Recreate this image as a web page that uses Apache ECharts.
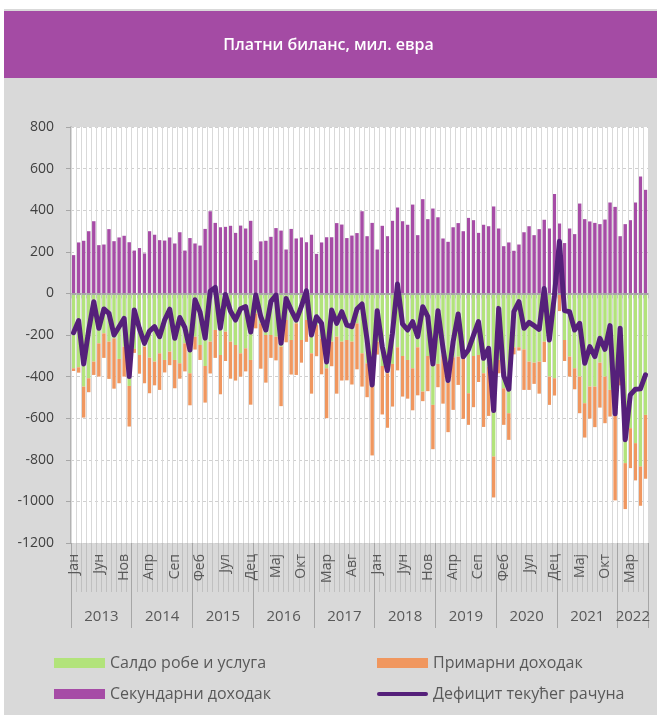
<!DOCTYPE html>
<html>
<head>
    <meta charset="utf-8">
    <title>Платни биланс, мил. евра</title>
    <script src="https://cdn.jsdelivr.net/npm/echarts@6/dist/echarts.min.js"></script>
    <style>
        html, body { margin: 0; padding: 0; background: #fff; }
        #panel { position: absolute; left: 4px; top: 9px; width: 653px; height: 706px; background: #d9d9d9; }
        #band { position: absolute; left: 4px; top: 11px; width: 653px; height: 67px; background: #a44ba4; }
        #chart { position: absolute; left: 0; top: 0; width: 657px; height: 715px; }
    </style>
</head>
<body>
<div id="panel"></div>
<div id="band"></div>
<div id="chart"></div>
<script>
    // месеци и године (јан 2013 - јун 2022)
    var monthNames = ['Јан', 'Феб', 'Мар', 'Апр', 'Мај', 'Јун', 'Јул', 'Авг', 'Сеп', 'Окт', 'Нов', 'Дец'];
    var years = ['2013', '2014', '2015', '2016', '2017', '2018', '2019', '2020', '2021', '2022'];
    var monthsLastYear = 6;

    // салдо робе и услуга
    var goods = [
        -360, -355, -448, -408, -328, -240, -192, -232, -216, -315, -256, -445,
        -267, -296, -256, -309, -328, -288, -320, -280, -320, -336, -240, -384,
        -208, -248, -349, -232, -176, -296, -184, -232, -248, -288, -264, -320,
        -96, -144, -200, -200, -208, -256, -128, -224, -144, -224, -128, -288,
        -152, -216, -360, -232, -208, -232, -224, -232, -144, -288, -336, -392,
        -232, -349, -384, -339, -259, -301, -320, -360, -259, -472, -301, -536,
        -339, -296, -429, -307, -304, -304, -480, -301, -296, -384, -352, -784,
        -320, -456, -576, -259, -259, -269, -328, -333, -328, -232, -400, -408,
        -5, -224, -304, -360, -400, -528, -448, -448, -333, -400, -464, -586,
        -350, -816, -648, -720, -832, -584
    ];
    // примарни доходак
    var primary = [
        -13, -26, -149, -67, -64, -160, -118, -179, -242, -117, -144, -195,
        -19, -90, -176, -171, -114, -176, -60, -65, -136, -74, -135, -154,
        -62, -72, -176, -153, -134, -189, -141, -178, -171, -112, -111, -215,
        -72, -218, -229, -110, -114, -286, -107, -166, -248, -109, -105, -194,
        -150, -173, -240, -118, -274, -187, -194, -206, -221, -160, -163, -387,
        -62, -233, -262, -205, -111, -195, -186, -202, -231, -46, -169, -213,
        -112, -234, -238, -253, -136, -299, -152, -246, -130, -258, -237, -197,
        -64, -176, -128, -34, -16, -195, -136, -102, -154, -98, -136, -83,
        -80, -101, -96, -101, -176, -165, -154, -195, -216, -224, -128, -409,
        -92, -221, -192, -179, -189, -307
    ];
    // секундарни доходак
    var secondary = [
        184, 245, 253, 299, 347, 232, 235, 309, 251, 269, 277, 246,
        206, 218, 192, 299, 282, 256, 254, 269, 240, 294, 206, 266,
        240, 230, 310, 395, 339, 318, 320, 325, 291, 326, 312, 349,
        160, 250, 253, 272, 314, 302, 211, 310, 264, 269, 246, 282,
        190, 245, 270, 270, 338, 331, 266, 278, 290, 395, 275, 339,
        211, 325, 275, 349, 413, 347, 330, 427, 280, 453, 357, 408,
        366, 264, 248, 318, 338, 299, 363, 352, 291, 330, 323, 418,
        312, 227, 245, 205, 235, 294, 323, 280, 309, 354, 312, 478,
        336, 242, 312, 285, 432, 357, 346, 339, 333, 355, 437, 416,
        275, 333, 352, 437, 562, 498
    ];
    // дефицит текућег рачуна
    var current = [
        -189, -131, -339, -176, -40, -168, -75, -96, -200, -160, -120, -400,
        -80, -168, -240, -181, -160, -208, -128, -76, -216, -116, -165, -272,
        -30, -90, -215, 10, 29, -167, -5, -85, -128, -74, -63, -186,
        -8, -112, -176, -38, -8, -240, -24, -80, -128, -64, 13, -200,
        -112, -144, -330, -80, -144, -88, -152, -160, -75, -51, -224, -440,
        -83, -256, -371, -192, 45, -147, -176, -136, -208, -64, -112, -339,
        -83, -264, -419, -232, -99, -304, -272, -203, -136, -312, -264, -563,
        -72, -397, -461, -88, -40, -168, -139, -155, -173, 24, -224, -13,
        251, -83, -88, -176, -144, -336, -256, -304, -216, -269, -155, -579,
        -167, -704, -488, -461, -459, -392
    ];

    var categories = [];
    years.forEach(function (y, k) {
        var n = (k === years.length - 1) ? monthsLastYear : 12;
        for (var m = 0; m < n; m++) {
            categories.push(monthNames[m] + ' ' + y);
        }
    });
    // позиција натписа године (средина године)
    var yearLabelIdx = {};
    var start = 0;
    years.forEach(function (y, k) {
        var n = (k === years.length - 1) ? monthsLastYear : 12;
        yearLabelIdx[start + Math.floor(n / 2)] = true;
        start += n;
    });

    var font = 'Open Sans';
    var gray = '#595959';
    var lineIcon = 'path://M2,0 L49,0 A2,2 0 0 1 49,4 L2,4 A2,2 0 0 1 2,0 Z';

    var myChart = echarts.init(document.getElementById('chart'));
    myChart.setOption({
        animation: false,
        title: {
            text: 'Платни биланс, мил. евра',
            left: 'center',
            top: 32,
            textStyle: { color: '#fff', fontSize: 16, fontWeight: 600, fontFamily: font }
        },
        grid: {
            left: 71, top: 127, width: 577, height: 416,
            show: true, backgroundColor: '#ffffff', borderWidth: 0
        },
        legend: [{
            data: ['Салдо робе и услуга', 'Секундарни доходак'],
            orient: 'vertical', left: 49, top: 650,
            icon: 'rect',
            itemWidth: 51, itemHeight: 10, itemGap: 15,
            textStyle: { color: gray, fontSize: 16, fontFamily: font }
        }, {
            data: [
                { name: 'Примарни доходак', icon: 'rect' },
                { name: 'Дефицит текућег рачуна', icon: lineIcon }
            ],
            orient: 'vertical', left: 372, top: 650,
            itemWidth: 51, itemHeight: 10, itemGap: 15,
            textStyle: { color: gray, fontSize: 16, fontFamily: font }
        }],
        xAxis: [{
            // оса на нули
            type: 'category',
            data: categories,
            axisLine: { onZero: true, lineStyle: { color: '#a6a6a6', width: 2 } },
            axisTick: { show: true, interval: 0, length: 5, lineStyle: { color: '#c0c0c0' } },
            axisLabel: { show: false },
            splitLine: { show: true, interval: 0, lineStyle: { color: '#d9d9d9', width: 1 } },
            z: 3
        }, {
            // месеци
            type: 'category',
            data: categories,
            position: 'bottom',
            axisLine: { show: false, onZero: false },
            axisTick: { show: true, interval: 0, length: 49, lineStyle: { color: '#c0c0c0' } },
            axisLabel: {
                interval: function (i) { return i % 5 === 0; },
                rotate: 90, margin: 11,
                color: gray, fontSize: 14, fontFamily: font,
                formatter: function (v) { return v.split(' ')[0]; }
            },
            splitLine: { show: false }
        }, {
            // године
            type: 'category',
            data: categories,
            position: 'bottom',
            axisLine: { show: false, onZero: false },
            axisTick: {
                show: true, length: 85,
                interval: function (i) { return i % 12 === 0; },
                lineStyle: { color: '#a6a6a6' }
            },
            axisLabel: {
                interval: function (i) { return !!yearLabelIdx[i]; },
                margin: 66, padding: [0, 5, 0, 0],
                color: gray, fontSize: 15, fontFamily: font,
                formatter: function (v) { return v.split(' ')[1]; }
            },
            splitLine: { show: false }
        }],
        yAxis: {
            type: 'value',
            min: -1200, max: 800, interval: 200,
            axisLine: { show: true, lineStyle: { color: '#a6a6a6', width: 1.5 } },
            axisTick: { show: true, length: 5, lineStyle: { color: '#a6a6a6' } },
            axisLabel: {
                color: '#404040', fontSize: 14, margin: 17, fontFamily: font,
                formatter: function (v) { return String(v); }
            },
            splitLine: { lineStyle: { color: '#d0d0d0', type: [3, 3] } }
        },
        series: [{
            name: 'Салдо робе и услуга',
            type: 'bar', stack: 'cur', barWidth: '68%',
            data: goods,
            itemStyle: { color: '#b2e37b' }
        }, {
            name: 'Примарни доходак',
            type: 'bar', stack: 'cur', barWidth: '68%',
            data: primary,
            itemStyle: { color: '#f0975f' }
        }, {
            name: 'Секундарни доходак',
            type: 'bar', stack: 'cur', barWidth: '68%',
            data: secondary,
            itemStyle: { color: '#a64ca6' }
        }, {
            name: 'Дефицит текућег рачуна',
            type: 'line',
            data: current,
            symbol: 'none',
            z: 5,
            lineStyle: { color: '#55207a', width: 5, join: 'round', cap: 'round' },
            itemStyle: { color: '#55207a' }
        }]
    });
</script>
</body>
</html>
